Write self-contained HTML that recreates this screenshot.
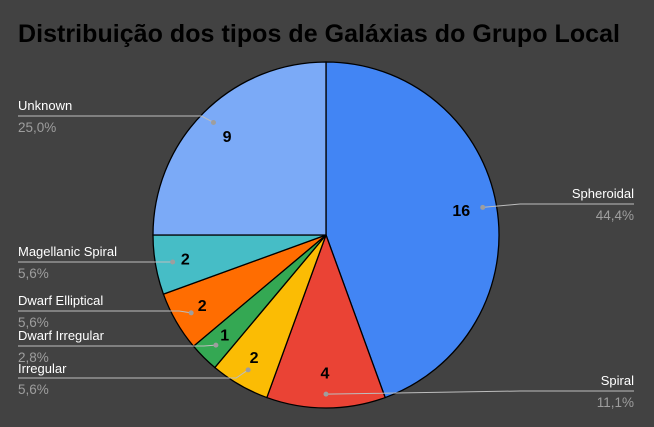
<!DOCTYPE html>
<html><head><meta charset="utf-8"><style>
body{margin:0;background:#424242;}
svg{display:block;font-family:"Liberation Sans",Arial,sans-serif;}
</style></head><body>
<svg id="c" width="654" height="427">
<rect width="654" height="427" fill="#424242"/>
<text x="18" y="42" font-size="25" font-weight="bold" fill="#000" textLength="602">Distribuição dos tipos de Galáxias do Grupo Local</text>
<g id="slices"></g>
<g id="labels"></g>
</svg>
<script>
const categories=["Spheroidal","Spiral","Irregular","Dwarf Irregular","Dwarf Elliptical","Magellanic Spiral","Unknown"];
const values=[16,4,2,1,2,2,9];
const colors=["#4285f4","#ea4335","#fbbc04","#34a853","#ff6d01","#46bdc6","#7baaf7"];
// label layout (positions only)
const layout=[
 {side:"r",ty:198,ly:204},{side:"r",ty:385,ly:391},{side:"l",ty:373,ly:378},
 {side:"l",ty:340,ly:346},{side:"l",ty:305,ly:311},{side:"l",ty:256,ly:262},{side:"l",ty:110,ly:116}
];
const cx=326,cy=235,r=173;
const NS="http://www.w3.org/2000/svg";
const total=values.reduce((a,b)=>a+b,0);
const gS=document.getElementById('slices'),gL=document.getElementById('labels');
function pt(a,rr){return [cx+rr*Math.sin(a),cy-rr*Math.cos(a)];}
let a0=0;
values.forEach((v,i)=>{
 const a1=a0+v/total*2*Math.PI;
 const p0=pt(a0,r),p1=pt(a1,r);
 const path=document.createElementNS(NS,'path');
 path.setAttribute('d',`M${cx},${cy}L${p0[0]},${p0[1]}A${r},${r} 0 ${a1-a0>Math.PI?1:0} 1 ${p1[0]},${p1[1]}Z`);
 path.setAttribute('fill',colors[i]);path.setAttribute('stroke','#000');path.setAttribute('stroke-width','1.3');
 
 
 gS.appendChild(path);
 const am=(a0+a1)/2;
 const vp=pt(am,r*(v<3?0.82:0.8));
 const t=document.createElementNS(NS,'text');
 t.setAttribute('x',vp[0]-1);t.setAttribute('y',vp[1]+5);t.setAttribute('text-anchor','middle');
 t.setAttribute('font-size','16');t.setAttribute('font-weight','bold');t.setAttribute('fill','#000');
 t.textContent=v;
 
 
 gS.appendChild(t);
 const L=layout[i];const dp=pt(am,r*(v<3?0.9:0.92));
 const ex=L.side==='l'?18:634;const bx=L.side==='l'?dp[0]-12:Math.max(dp[0]+20,520);
 const line=document.createElementNS(NS,'polyline');
 line.setAttribute('points',`${ex},${L.ly} ${bx},${L.ly} ${dp[0]},${dp[1]}`);
 line.setAttribute('fill','none');line.setAttribute('stroke','#bdbdbd');line.setAttribute('stroke-width','1');
 
 
 gL.appendChild(line);
 const dot=document.createElementNS(NS,'circle');
 dot.setAttribute('cx',dp[0]);dot.setAttribute('cy',dp[1]);dot.setAttribute('r','2.5');dot.setAttribute('fill','#9e9e9e');
 
 
 gL.appendChild(dot);
 const anchor=L.side==='l'?'start':'end';
 const n=document.createElementNS(NS,'text');
 n.setAttribute('x',ex);n.setAttribute('y',L.ty);n.setAttribute('text-anchor',anchor);
 n.setAttribute('font-size','13');n.setAttribute('fill','#fff');n.textContent=categories[i];
 
 
 gL.appendChild(n);
 const p=document.createElementNS(NS,'text');
 p.setAttribute('x',ex);p.setAttribute('y',L.ly+16);p.setAttribute('text-anchor',anchor);
 p.setAttribute('font-size','13.5');p.setAttribute('fill','#9e9e9e');
 p.textContent=(v/total*100).toFixed(1).replace('.',',')+'%';
 
 
 gL.appendChild(p);
 a0=a1;
});
</script>
</body></html>
